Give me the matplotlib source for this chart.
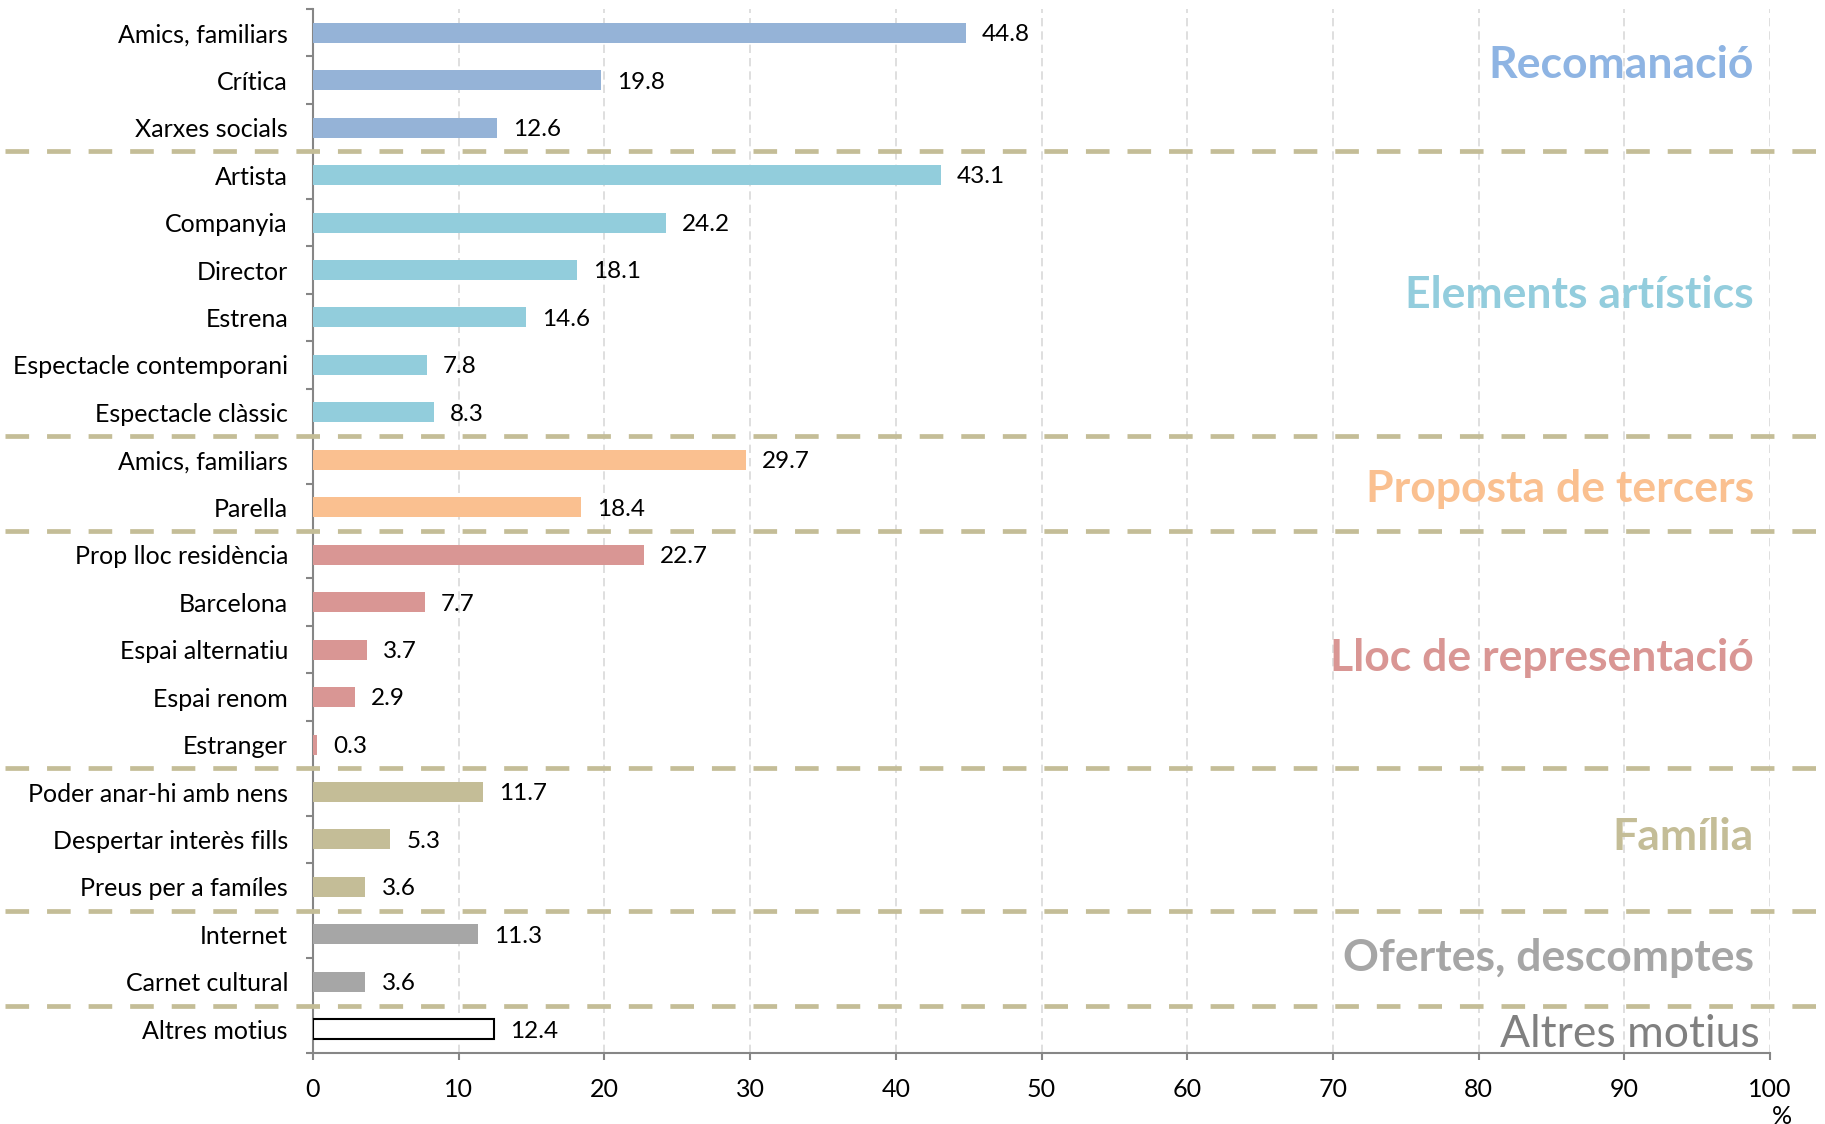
import matplotlib
matplotlib.use("Agg")
import matplotlib.pyplot as plt
import matplotlib.transforms as mtransforms
import numpy as np

# --- DADES ---
categories = ["Amics, familiars", "Crítica", "Xarxes socials",
              "Artista", "Companyia", "Director", "Estrena",
              "Espectacle contemporani", "Espectacle clàssic",
              "Amics, familiars", "Parella",
              "Prop lloc residència", "Barcelona", "Espai alternatiu",
              "Espai renom", "Estranger",
              "Poder anar-hi amb nens", "Despertar interès fills", "Preus per a famíles",
              "Internet", "Carnet cultural",
              "Altres motius"]
values = [44.8, 19.8, 12.6,
          43.1, 24.2, 18.1, 14.6, 7.8, 8.3,
          29.7, 18.4,
          22.7, 7.7, 3.7, 2.9, 0.3,
          11.7, 5.3, 3.6,
          11.3, 3.6,
          12.4]
groups = ["Recomanació", "Elements artístics", "Proposta de tercers",
          "Lloc de representació", "Família", "Ofertes, descomptes", "Altres motius"]
group_sizes = [3, 6, 2, 5, 3, 2, 1]
x_ticks = list(range(0, 101, 10))

# --- ESTIL ---
bar_colors = ["#95B3D7", "#92CDDC", "#FAC090", "#D99694", "#C4BD97", "#A6A6A6", "white"]
label_colors = ["#8EB4E3", "#93CDDD", "#FAC090", "#D99694", "#C4BD97", "#A6A6A6", "#808080"]
group_label_y = [0.67, 5.52, 9.62, 13.17, 16.95, 19.5, 21.1]
sep_color = "#C4BD97"
axis_color = "#868686"

plt.rcParams['font.family'] = ['Lato', 'DejaVu Sans']

fig = plt.figure(figsize=(18.25, 11.24), dpi=100)
ax = fig.add_axes([313 / 1825, 1 - 1053 / 1124, (1770 - 313) / 1825, (1053 - 9) / 1124])

n = len(categories)
y = np.arange(n)
colors = np.repeat(bar_colors, group_sizes)

for yi, v, c in zip(y, values, colors):
    if c == "white":
        ax.barh(yi, v, height=0.42, color="white", edgecolor="black", linewidth=1.5, zorder=3)
    else:
        ax.barh(yi, v, height=0.42, color=c, zorder=3)
    ax.text(v + 1.1, yi + 0.04, f"{v:.1f}", va="center", ha="left", fontsize=17.5, color="black")

ax.set_ylim(n - 0.5, -0.5)
ax.set_xlim(0, 100)

# eixos
for s in ["top", "right"]:
    ax.spines[s].set_visible(False)
for s in ["left", "bottom"]:
    ax.spines[s].set_color(axis_color)
    ax.spines[s].set_linewidth(1.5)

ax.set_yticks(y)
ax.set_yticklabels(categories, fontsize=18)
ax.set_yticks(np.arange(n + 1) - 0.5, minor=True)
ax.tick_params(axis="y", which="major", length=0, pad=18)
ax.tick_params(axis="y", which="minor", length=5, width=1.5, color=axis_color)

ax.set_xticks(x_ticks)
ax.tick_params(axis="x", which="major", length=5, width=1.5, color=axis_color, labelsize=18, pad=13)

ax.grid(axis="x", color="#D9D9D9", linestyle=(0, (5, 3)), linewidth=1.2, zorder=0)
ax.set_axisbelow(True)

# separadors de grups
trans = mtransforms.blended_transform_factory(fig.transFigure, ax.transData)
bounds = np.cumsum(group_sizes)[:-1] - 0.5
for b in bounds:
    ax.plot([0.003, 1.0], [b, b], transform=trans, color=sep_color, lw=3.4,
            linestyle=(0, (5.0, 3.8)), clip_on=False, zorder=4)

# etiquetes de grups
for g, gy, gc in zip(groups, group_label_y, label_colors):
    if g == "Altres motius":
        ax.text(99.3, gy, g, ha="right", va="center", fontsize=32, color=gc)
    else:
        ax.text(98.9, gy, g, ha="right", va="center", fontsize=32, color=gc, fontweight="bold")

fig.text(1782 / 1825, 1 - 1116 / 1124, "%", ha="center", va="center", fontsize=18)

fig.savefig("out.png", dpi=100)
